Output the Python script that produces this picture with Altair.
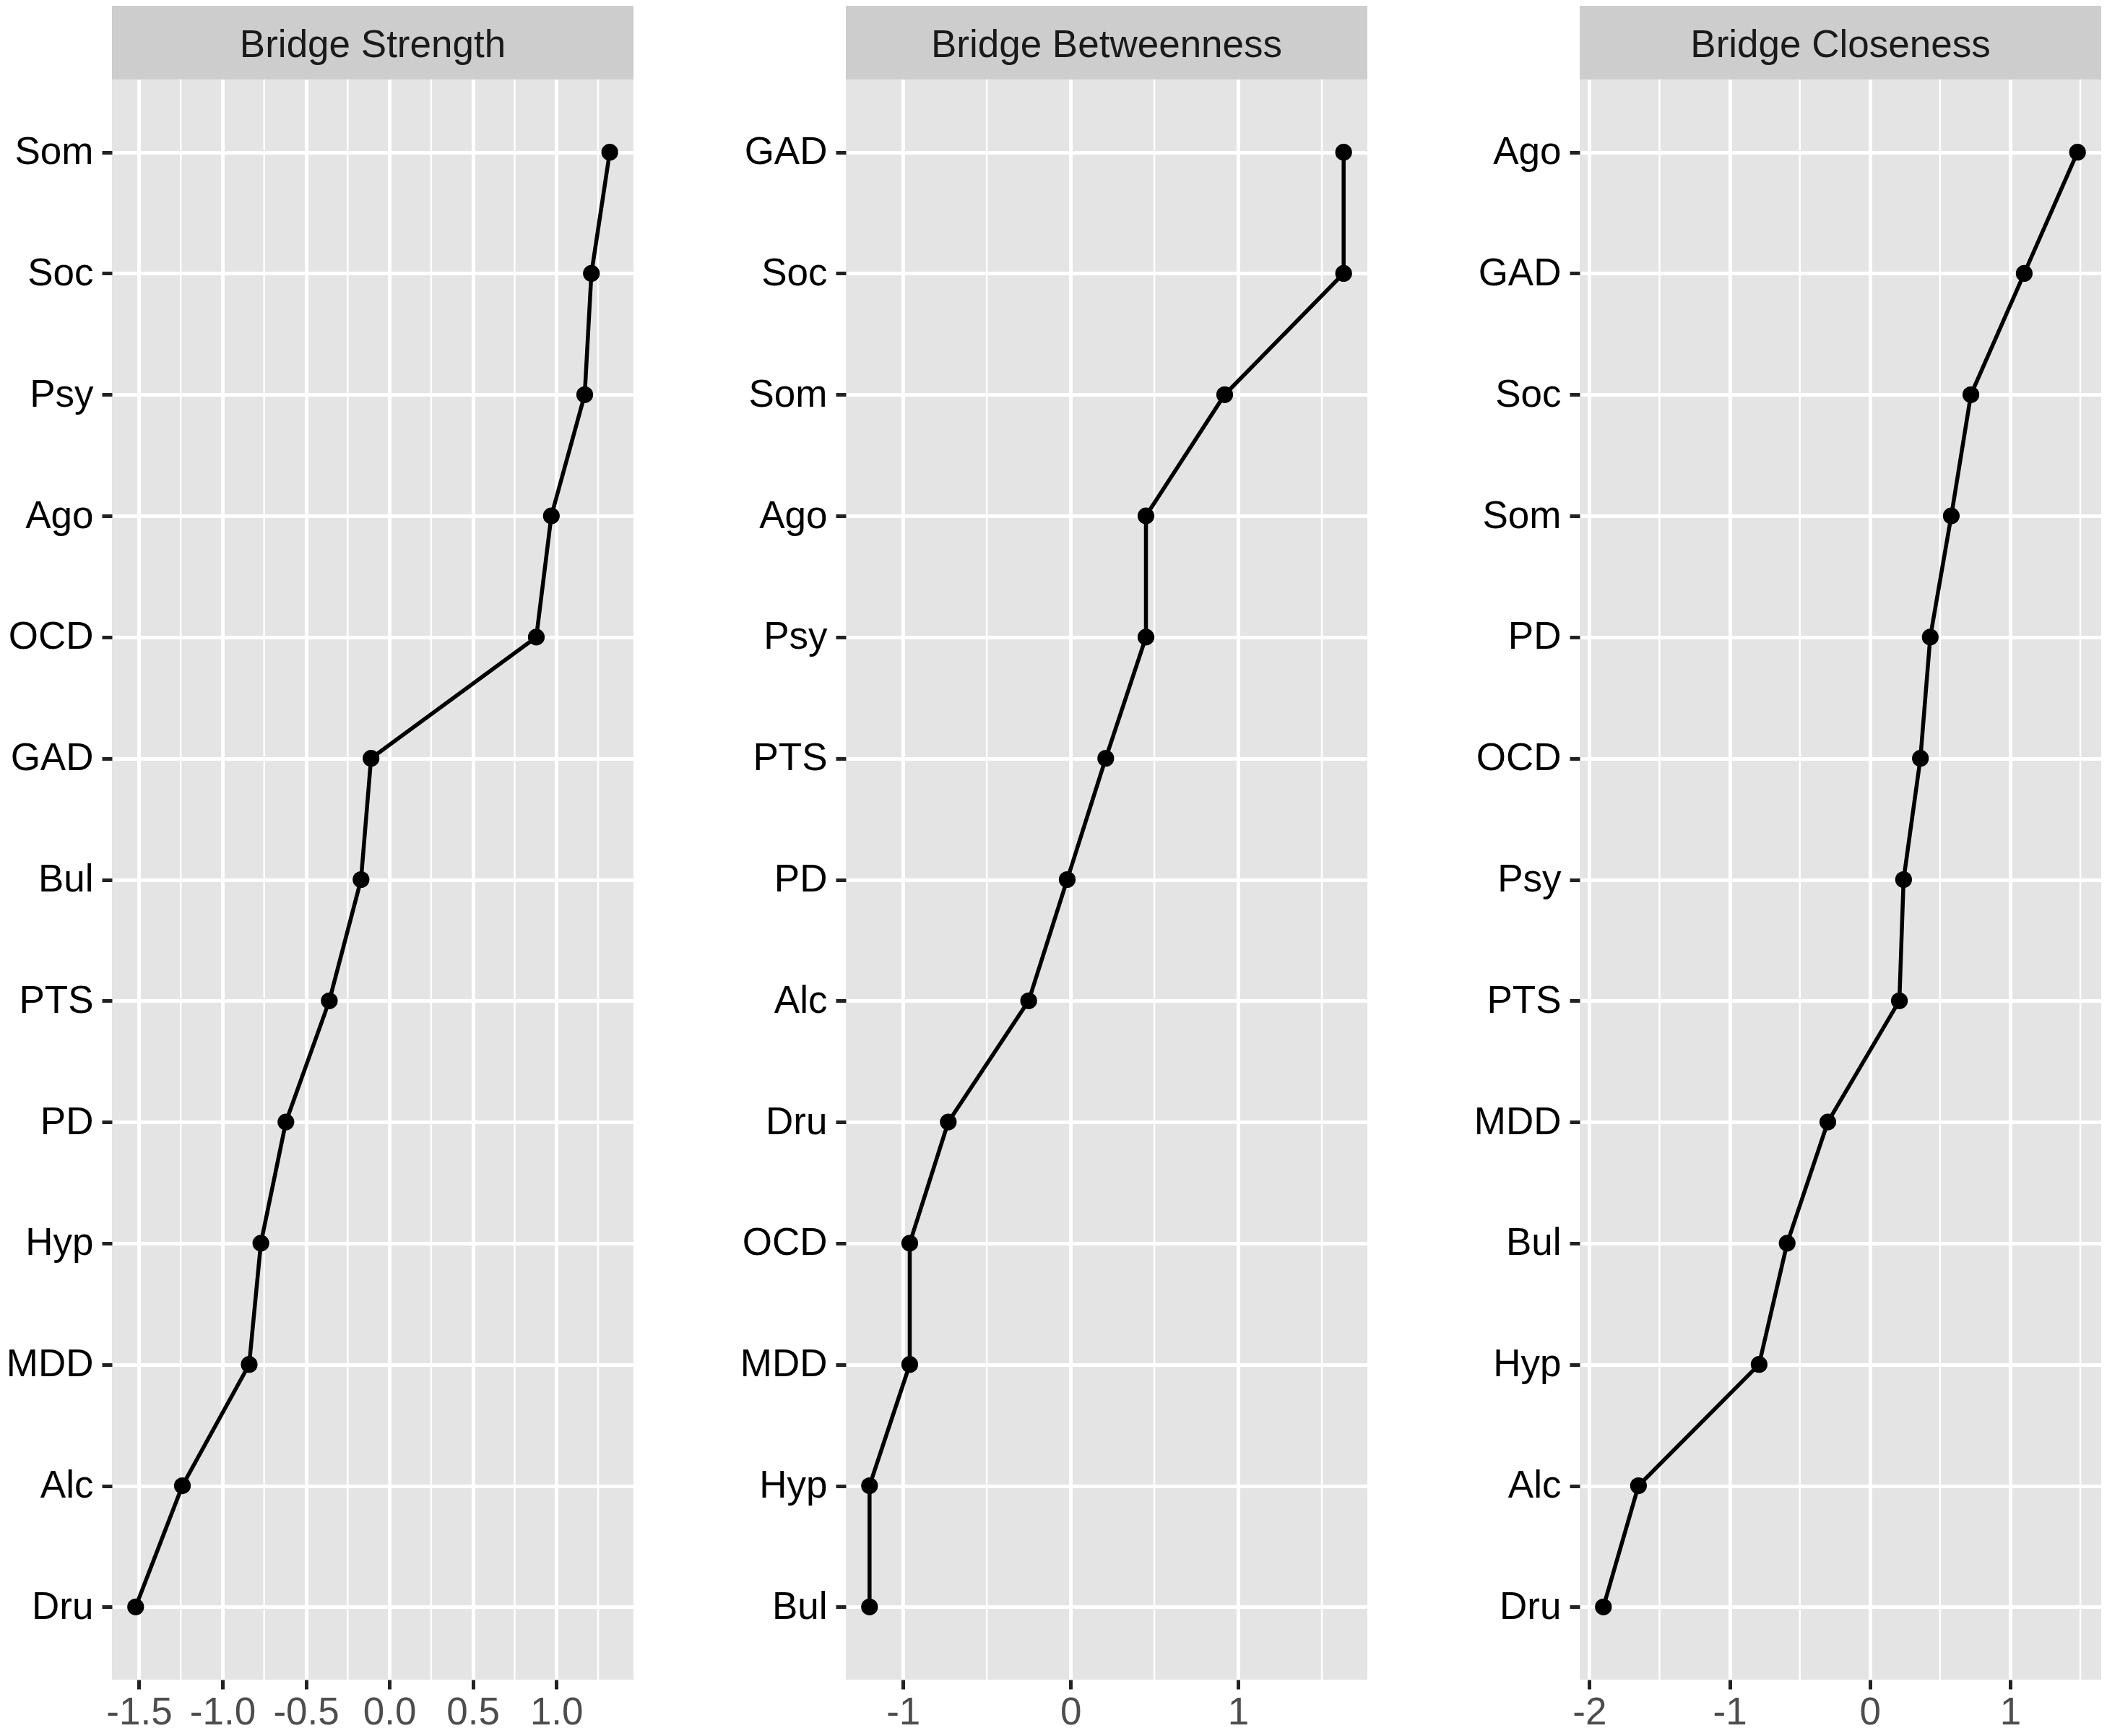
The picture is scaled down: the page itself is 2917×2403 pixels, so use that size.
import altair as alt
import pandas as pd

# ---- data ----
strength_nodes = ["Som", "Soc", "Psy", "Ago", "OCD", "GAD", "Bul", "PTS", "PD", "Hyp", "MDD", "Alc", "Dru"]
strength_vals = [1.32, 1.21, 1.17, 0.97, 0.88, -0.11, -0.17, -0.36, -0.62, -0.77, -0.84, -1.24, -1.52]

betweenness_nodes = ["GAD", "Soc", "Som", "Ago", "Psy", "PTS", "PD", "Alc", "Dru", "OCD", "MDD", "Hyp", "Bul"]
betweenness_vals = [1.63, 1.63, 0.92, 0.45, 0.45, 0.21, -0.02, -0.25, -0.73, -0.96, -0.96, -1.20, -1.20]

closeness_nodes = ["Ago", "GAD", "Soc", "Som", "PD", "OCD", "Psy", "PTS", "MDD", "Bul", "Hyp", "Alc", "Dru"]
closeness_vals = [1.48, 1.10, 0.72, 0.58, 0.43, 0.36, 0.24, 0.21, -0.30, -0.59, -0.79, -1.65, -1.90]

titles = ["Bridge Strength", "Bridge Betweenness", "Bridge Closeness"]

strength_major = [-1.5, -1.0, -0.5, 0.0, 0.5, 1.0]
strength_minor = [-1.25, -0.75, -0.25, 0.25, 0.75, 1.25]
betweenness_major = [-1, 0, 1]
betweenness_minor = [-0.5, 0.5, 1.5]
closeness_major = [-2, -1, 0, 1]
closeness_minor = [-1.5, -0.5, 0.5, 1.5]

W = 722
H = 2215
STRIP = 102
FONT = "Liberation Sans"
FS = 53


def panel(title, nodes, vals, majors, minors, fmt):
    df = pd.DataFrame({"node": nodes, "value": vals, "rank": list(range(len(nodes)))})
    lo, hi = min(vals), max(vals)
    pad = 0.05 * (hi - lo)
    xscale = alt.Scale(domain=[lo - pad, hi + pad], nice=False, zero=False)
    xaxis = alt.Axis(values=majors, format=fmt, title=None, grid=True, gridColor="white",
                     gridWidth=5, tickColor="#222222", tickWidth=5, tickSize=13,
                     labelFontSize=FS, labelColor="#4D4D4D", labelPadding=6,
                     domain=False, labelFlush=False, labelFont=FONT,
                     labelExpr="replace(datum.label, '\u2212', '-')")
    x = alt.X("value:Q", scale=xscale, axis=xaxis)
    y = alt.Y("node:N", sort=nodes,
              scale=alt.Scale(type="point", domain=nodes, padding=0.6),
              axis=alt.Axis(title=None, grid=True, gridColor="white", gridWidth=5,
                            tickColor="#222222", tickWidth=5, tickSize=14,
                            labelFontSize=FS, labelColor="#000000", labelPadding=12,
                            domain=False, minExtent=147, maxExtent=147, labelFont=FONT))
    minor = alt.Chart(pd.DataFrame({"value": minors})).mark_rule(
        color="white", strokeWidth=2.5).encode(x=x)
    line = alt.Chart(df).mark_line(color="black", strokeWidth=5.5).encode(
        x=x, y=y, order=alt.Order("rank:Q"))
    pts = alt.Chart(df).mark_circle(size=540, color="black", opacity=1).encode(x=x, y=y)
    sdf = pd.DataFrame({"t": [title]})
    strip = alt.Chart(sdf).mark_rect(color="#CDCDCD").encode(
        x=alt.value(0), x2=alt.value(W), y=alt.value(-STRIP), y2=alt.value(0))
    text = alt.Chart(sdf).mark_text(fontSize=FS, color="#1A1A1A", baseline="alphabetic",
                                    align="center", font=FONT).encode(
        x=alt.value(W / 2), y=alt.value(-31), text="t:N")
    return alt.layer(minor, line, pts, strip, text).properties(width=W, height=H)


p1 = panel(titles[0], strength_nodes, strength_vals, strength_major, strength_minor, ".1f")
p2 = panel(titles[1], betweenness_nodes, betweenness_vals, betweenness_major, betweenness_minor, "d")
p3 = panel(titles[2], closeness_nodes, closeness_vals, closeness_major, closeness_minor, "d")

chart = alt.hconcat(p1, p2, p3, spacing=147).properties(
    padding=0, background="white"
).configure(
    font=FONT,
    view=alt.ViewConfig(fill="#E4E4E4", strokeWidth=0),
)

chart.save("out.html", embed_options={"renderer": "svg", "actions": False})
